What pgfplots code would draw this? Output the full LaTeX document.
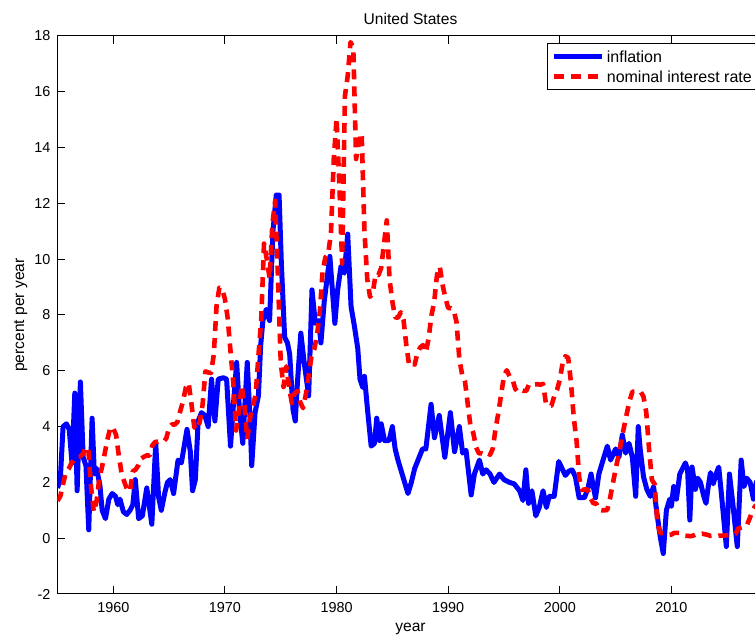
\documentclass[border=0pt]{standalone}
\usepackage{fontspec}
\setmainfont{Liberation Sans}
\usepackage{pgfplots}
\pgfplotsset{compat=1.18}
\definecolor{mblue}{rgb}{0,0,1}
\definecolor{mred}{rgb}{1,0,0}

\begin{document}
\begin{tikzpicture}
% the reference is cropped on the right: keep the page to that frame
\path[use as bounding box] (-28.75pt,-20.5pt) rectangle (348.75pt,297pt);
\clip (-28.75pt,-20.5pt) rectangle (348.75pt,297pt);
\begin{axis}[
  at={(0pt,0pt)}, anchor=south west,
  scale only axis, width=353pt, height=279pt,
  xmin=1955, xmax=2018.25, ymin=-2, ymax=18,
  xtick={1960,1970,...,2010}, ytick={-2,0,...,18},
  xtick pos=both, ytick pos=both,
  /pgf/number format/assume math mode=true,
  /pgf/number format/1000 sep={},
  tick align=inside, major tick length=4pt,
  every tick/.style={black, line width=0.5pt},
  axis line style={line width=0.5pt},
  tick label style={font=\fontsize{7.2}{8.6}\selectfont},
  xticklabel style={anchor=center, yshift=-7pt},
  title={United States},
  every axis title/.style={font=\fontsize{7.8}{9.4}\selectfont, at={(axis description cs:0.5,1)}, anchor=center, yshift=8.75pt},
  xlabel={year},
  xlabel style={font=\fontsize{7.8}{9.4}\selectfont, at={(axis description cs:0.5,0)}, anchor=center, yshift=-17.5pt},
  ylabel={percent per year},
  ylabel style={font=\fontsize{7.8}{9.4}\selectfont, at={(axis description cs:-0.052,0.5)}, anchor=center},
  legend cell align=left,
  legend image code/.code={\draw[#1] (0pt,0pt) -- (24pt,0pt);},
  legend style={at={(axis description cs:0.6933,1)}, anchor=north west, yshift=-3.75pt,
    draw=black, line width=0.5pt, font=\fontsize{8}{9.6}\selectfont,
    inner xsep=2pt, inner ysep=2.2pt, row sep=1.8pt,
    nodes={inner sep=1.2pt, text depth=0pt}},
]
\addplot[mblue, line width=2.5pt, line join=round] coordinates {
(1955.00,1.8) (1955.25,2.1) (1955.50,4.0) (1955.80,4.1) (1956.05,3.9) (1956.30,2.7)
(1956.55,5.2) (1956.76,1.7) (1957.05,5.6) (1957.30,2.9) (1957.55,2.6) (1957.80,0.3)
(1958.10,4.3) (1958.30,2.3) (1958.50,2.5) (1958.80,1.9) (1959.00,1.0) (1959.30,0.7)
(1959.60,1.4) (1959.90,1.6) (1960.20,1.5) (1960.40,1.2) (1960.60,1.4) (1960.90,0.95)
(1961.20,0.85) (1961.50,1.0) (1961.75,1.2) (1961.97,2.1) (1962.27,0.7) (1962.60,0.8)
(1963.00,1.8) (1963.45,0.5) (1963.80,3.4) (1964.05,1.5) (1964.30,1.0) (1964.60,1.6)
(1964.85,2.0) (1965.10,2.1) (1965.40,1.6) (1965.80,2.8) (1966.10,2.7) (1966.60,3.9)
(1966.90,3.1) (1967.10,1.7) (1967.35,2.1) (1967.60,4.2) (1967.90,4.5) (1968.20,4.4)
(1968.50,4.0) (1968.80,5.7) (1969.10,4.2) (1969.40,5.7) (1969.85,5.75) (1970.15,5.7)
(1970.50,3.3) (1970.80,5.0) (1971.05,6.3) (1971.30,4.6) (1971.60,3.4) (1972.00,6.3)
(1972.25,4.3) (1972.40,2.6) (1972.70,4.5) (1973.00,5.1) (1973.20,6.9) (1973.40,7.8)
(1973.70,8.2) (1974.00,7.8) (1974.30,11.0) (1974.60,12.3) (1974.85,12.3) (1975.06,9.8)
(1975.35,7.2) (1975.60,7.0) (1975.80,6.6) (1976.10,4.6) (1976.30,4.2) (1976.50,5.6)
(1976.80,7.35) (1977.10,6.3) (1977.50,5.1) (1977.80,8.9) (1978.10,7.7) (1978.40,7.8)
(1978.60,7.0) (1978.90,8.5) (1979.40,10.1) (1979.85,7.7) (1980.10,8.9) (1980.40,9.75)
(1980.70,9.5) (1981.00,10.9) (1981.30,8.3) (1981.60,7.6) (1981.90,6.8) (1982.10,5.7)
(1982.35,5.4) (1982.50,5.8) (1982.80,4.5) (1983.10,3.3) (1983.40,3.4) (1983.60,4.3)
(1983.85,3.5) (1984.00,4.1) (1984.30,3.5) (1984.70,3.5) (1985.00,4.0) (1985.25,3.2)
(1985.50,2.8) (1985.80,2.4) (1986.10,2.0) (1986.40,1.6) (1986.70,2.0) (1987.00,2.5)
(1987.40,2.9) (1987.70,3.2) (1988.00,3.2) (1988.47,4.8) (1988.77,3.6) (1989.20,4.4)
(1989.70,2.9) (1990.20,4.5) (1990.57,3.1) (1991.00,4.0) (1991.30,3.05) (1991.60,3.15)
(1992.06,1.55) (1992.35,2.3) (1992.80,2.8) (1993.10,2.3) (1993.40,2.45) (1993.75,2.3)
(1994.10,2.0) (1994.60,2.3) (1995.00,2.1) (1995.50,2.0) (1995.90,1.95) (1996.40,1.7)
(1996.70,1.35) (1996.96,2.45) (1997.20,1.25) (1997.50,1.7) (1997.85,0.8) (1998.16,1.1)
(1998.50,1.7) (1998.80,1.1) (1999.05,1.5) (1999.50,1.5) (1999.90,2.75) (2000.20,2.5)
(2000.50,2.25) (2000.80,2.4) (2001.10,2.45) (2001.40,2.2) (2001.73,1.45) (2002.20,1.45)
(2002.50,1.75) (2002.80,2.3) (2003.00,1.85) (2003.20,1.45) (2003.50,2.3) (2003.80,2.7)
(2004.26,3.3) (2004.55,2.8) (2005.00,3.2) (2005.30,2.9) (2005.60,3.7) (2005.90,3.05)
(2006.20,3.4) (2006.50,2.9) (2006.80,1.5) (2007.03,4.0) (2007.20,3.2) (2007.50,2.2)
(2007.80,1.75) (2008.10,1.5) (2008.40,1.85) (2008.70,0.9) (2009.00,0.05) (2009.27,-0.55)
(2009.55,1.0) (2009.85,1.4) (2010.00,1.15) (2010.20,1.85) (2010.45,1.4) (2010.75,2.3)
(2011.25,2.7) (2011.45,2.45) (2011.65,0.65) (2011.85,2.55) (2012.15,1.75) (2012.35,2.15)
(2012.60,2.0) (2012.90,1.5) (2013.10,1.25) (2013.30,1.85) (2013.50,2.35) (2013.75,1.95)
(2014.00,2.3) (2014.24,2.55) (2014.50,1.5) (2014.92,-0.3) (2015.20,2.3) (2015.50,1.25)
(2015.90,-0.3) (2016.25,2.8) (2016.50,1.85) (2016.75,2.15) (2017.05,2.0) (2017.35,1.4)
(2017.60,2.0) (2017.90,2.2) (2018.15,2.0)
};
\addlegendentry{inflation}
\addplot[mred, line width=2.3pt, line join=round, dash pattern=on 5pt off 3.5pt] coordinates {
(1955.00,1.34) (1955.25,1.50) (1955.50,1.94) (1955.75,2.36)
(1956.00,2.48) (1956.25,2.69) (1956.50,2.81) (1956.75,2.93)
(1957.00,2.93) (1957.25,3.00) (1957.50,3.23) (1957.75,3.25)
(1958.00,1.86) (1958.25,0.94) (1958.50,1.32) (1958.75,2.16)
(1959.00,2.57) (1959.25,3.08) (1959.50,3.58) (1959.75,3.99)
(1960.00,3.93) (1960.25,3.70) (1960.50,2.94) (1960.75,2.30)
(1961.00,2.00) (1961.25,1.73) (1961.50,1.68) (1961.75,2.40)
(1962.00,2.46) (1962.25,2.61) (1962.50,2.85) (1962.75,2.92)
(1963.00,2.97) (1963.25,2.96) (1963.50,3.33) (1963.75,3.45)
(1964.00,3.46) (1964.25,3.49) (1964.50,3.46) (1964.75,3.58)
(1965.00,3.97) (1965.25,4.08) (1965.50,4.07) (1965.75,4.17)
(1966.00,4.56) (1966.25,4.91) (1966.50,5.41) (1966.75,5.56)
(1967.00,4.82) (1967.25,3.99) (1967.50,3.89) (1967.75,4.17)
(1968.00,4.79) (1968.25,5.98) (1968.50,5.94) (1968.75,5.92)
(1969.00,6.57) (1969.25,8.33) (1969.50,8.98) (1969.75,8.94)
(1970.00,8.57) (1970.25,7.88) (1970.50,6.70) (1970.75,5.57)
(1971.00,3.86) (1971.25,4.57) (1971.50,5.48) (1971.75,4.75)
(1972.00,3.55) (1972.25,4.30) (1972.50,4.74) (1972.75,5.14)
(1973.00,6.54) (1973.25,7.82) (1973.50,10.56) (1973.75,10.00)
(1974.00,9.32) (1974.25,11.25) (1974.50,12.09) (1974.75,9.35)
(1975.00,6.30) (1975.25,5.42) (1975.50,6.16) (1975.75,5.41)
(1976.00,4.83) (1976.25,5.20) (1976.50,5.28) (1976.75,4.87)
(1977.00,4.66) (1977.25,5.16) (1977.50,5.82) (1977.75,6.51)
(1978.00,6.76) (1978.25,7.28) (1978.50,8.10) (1978.75,9.58)
(1979.00,10.07) (1979.25,10.18) (1979.50,10.95) (1979.75,13.58)
(1980.00,15.05) (1980.25,12.69) (1980.50,9.84) (1980.75,15.85)
(1981.00,16.57) (1981.25,17.78) (1981.50,17.58) (1981.75,13.59)
(1982.00,14.23) (1982.25,14.51) (1982.50,11.01) (1982.75,9.29)
(1983.00,8.65) (1983.25,8.80) (1983.50,9.46) (1983.75,9.43)
(1984.00,9.69) (1984.25,10.56) (1984.50,11.39) (1984.75,9.27)
(1985.00,8.48) (1985.25,7.92) (1985.50,7.90) (1985.75,8.10)
(1986.00,7.83) (1986.25,6.92) (1986.50,6.21) (1986.75,6.27)
(1987.00,6.22) (1987.25,6.65) (1987.50,6.84) (1987.75,6.92)
(1988.00,6.66) (1988.25,7.16) (1988.50,7.98) (1988.75,8.47)
(1989.00,9.44) (1989.25,9.73) (1989.50,9.08) (1989.75,8.61)
(1990.00,8.25) (1990.25,8.24) (1990.50,8.16) (1990.75,7.74)
(1991.00,6.43) (1991.25,5.86) (1991.50,5.64) (1991.75,4.82)
(1992.00,4.02) (1992.25,3.77) (1992.50,3.26) (1992.75,3.04)
(1993.00,3.04) (1993.25,3.00) (1993.50,3.06) (1993.75,2.99)
(1994.00,3.21) (1994.25,3.94) (1994.50,4.49) (1994.75,5.17)
(1995.00,5.81) (1995.25,6.02) (1995.50,5.80) (1995.75,5.72)
(1996.00,5.36) (1996.25,5.24) (1996.50,5.31) (1996.75,5.28)
(1997.00,5.28) (1997.25,5.52) (1997.50,5.53) (1997.75,5.51)
(1998.00,5.52) (1998.25,5.50) (1998.50,5.53) (1998.75,4.86)
(1999.00,4.73) (1999.25,4.75) (1999.50,5.09) (1999.75,5.31)
(2000.00,5.68) (2000.25,6.27) (2000.50,6.52) (2000.75,6.47)
(2001.00,5.59) (2001.25,4.33) (2001.50,3.50) (2001.75,2.13)
(2002.00,1.73) (2002.25,1.75) (2002.50,1.74) (2002.75,1.44)
(2003.00,1.25) (2003.25,1.25) (2003.50,1.02) (2003.75,1.00)
(2004.00,1.00) (2004.25,1.01) (2004.50,1.43) (2004.75,1.95)
(2005.00,2.47) (2005.25,2.94) (2005.50,3.46) (2005.75,3.98)
(2006.00,4.46) (2006.25,4.91) (2006.50,5.25) (2006.75,5.25)
(2007.00,5.26) (2007.25,5.25) (2007.50,5.07) (2007.75,4.50)
(2008.00,3.18) (2008.25,2.09) (2008.50,1.94) (2008.75,0.51)
(2009.00,0.18) (2009.25,0.18) (2009.50,0.16) (2009.75,0.12)
(2010.00,0.13) (2010.25,0.19) (2010.50,0.19) (2010.75,0.19)
(2011.00,0.16) (2011.25,0.09) (2011.50,0.08) (2011.75,0.07)
(2012.00,0.10) (2012.25,0.15) (2012.50,0.14) (2012.75,0.16)
(2013.00,0.14) (2013.25,0.12) (2013.50,0.08) (2013.75,0.09)
(2014.00,0.07) (2014.25,0.09) (2014.50,0.09) (2014.75,0.10)
(2015.00,0.11) (2015.25,0.13) (2015.50,0.14) (2015.75,0.16)
(2016.00,0.36) (2016.25,0.37) (2016.50,0.39) (2016.75,0.45)
(2017.00,0.70) (2017.25,0.95) (2017.50,1.15) (2017.75,1.20)
(2018.00,1.45) (2018.25,1.74)
};
\addlegendentry{nominal interest rate}
\end{axis}
\end{tikzpicture}
\end{document}
